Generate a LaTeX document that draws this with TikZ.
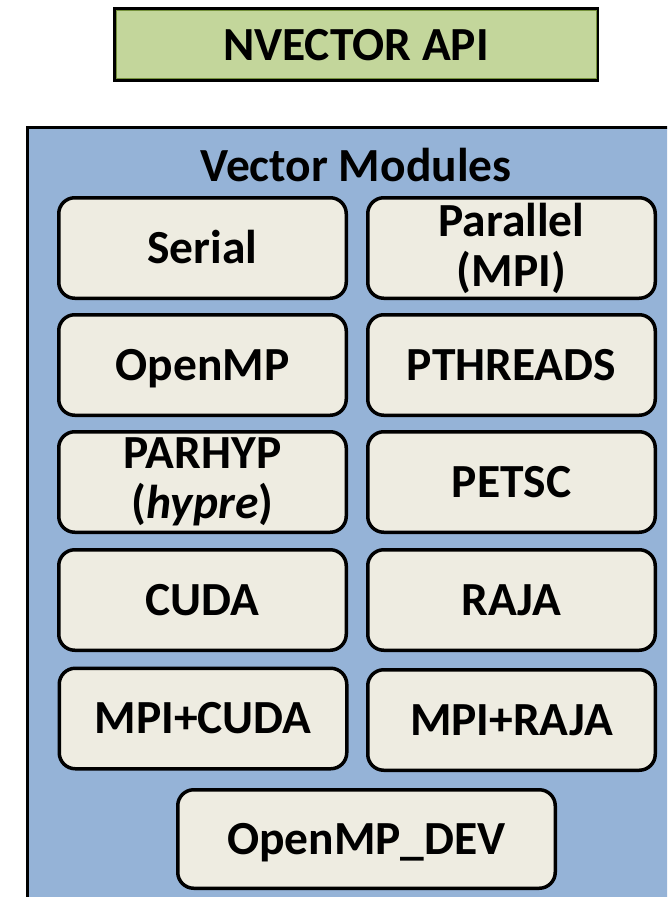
\documentclass[tikz,border=0pt]{standalone}
\usepackage{fontspec}
\setmainfont{Carlito}
\definecolor{apigreen}{HTML}{C3D69B}
\definecolor{apiolive}{HTML}{76923C}
\definecolor{modblue}{HTML}{95B3D7}
\definecolor{boxbeige}{HTML}{EEECE1}
\tikzset{
  bigfont/.style={font=\fontsize{47.5}{50}\selectfont\bfseries},
  modbox/.style={draw=black, line width=3.5pt, fill=boxbeige, rounded corners=16pt,
    minimum width=287.5pt, minimum height=100.5pt, inner sep=0pt, align=center, bigfont},
  oneline/.style={text height=30.6pt, text depth=0pt},
  apibox/.style={draw=black, line width=2.5pt, fill=apigreen, minimum width=483.5pt,
    minimum height=72pt, inner sep=0pt, bigfont, text height=30.6pt, text depth=0pt},
}
\begin{document}
\begin{tikzpicture}[x=1pt,y=-1pt]
\clip (0,0) rectangle (667,897);
\fill[white] (0,0) rectangle (667,897);
% API box
\node[apibox] (api) at (356,44.7) {NVECTOR API};
\draw[apiolive, line width=1pt] ([shift={(3pt,-3pt)}]api.north west) rectangle ([shift={(-3pt,3pt)}]api.south east);
% container
\node[draw=black, line width=3pt, fill=modblue, minimum width=700pt, minimum height=820pt,
  anchor=north west, inner sep=0pt] (modules) at (26,126) {};
\node[bigfont, oneline] (title) at (356,166) {Vector Modules};
% modules
\node[modbox, oneline] (serial) at (202.5,248) {Serial};
\node[modbox] (parallel) at (511.5,248) {Parallel\\(MPI)};
\node[modbox, oneline] (openmp) at (202.5,365) {OpenMP};
\node[modbox, oneline] (pthreads) at (511.5,365) {PTHREADS};
\node[modbox] (parhyp) at (202.5,482) {PARHYP\\(\textit{hypre})};
\node[modbox, oneline] (petsc) at (511.5,482) {PETSC};
\node[modbox, oneline] (cuda) at (202.5,600) {CUDA};
\node[modbox, oneline] (raja) at (511.5,600) {RAJA};
\node[modbox, oneline] (mpicuda) at (203,718.5) {MPI+CUDA};
\node[modbox, oneline] (mpiraja) at (511.5,720) {MPI+RAJA};
\node[modbox, oneline, minimum width=377.5pt, minimum height=98.5pt] (ompdev) at (366.5,839) {OpenMP\_DEV};
\end{tikzpicture}
\end{document}
